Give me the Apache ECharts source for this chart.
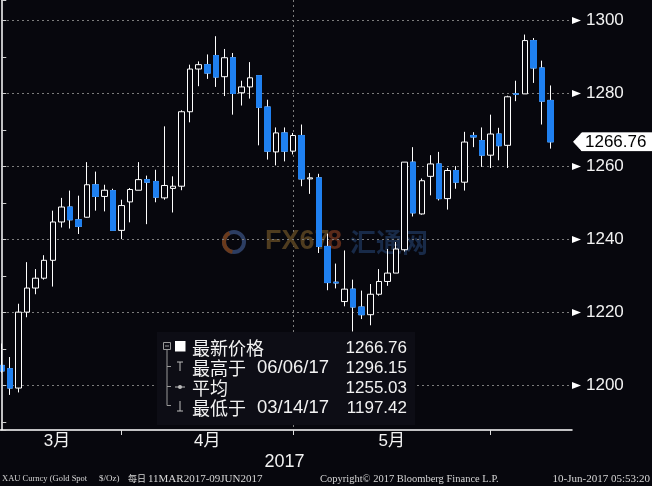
<!DOCTYPE html>
<html><head><meta charset="utf-8">
<script src="https://cdn.jsdelivr.net/npm/echarts@6/dist/echarts.min.js"></script>
<style>html,body{margin:0;padding:0;background:#07070d;}#c{width:652px;height:486px;}</style>
</head><body><div id="c"></div>
<script>
// ---- data ----
const dates = ['03/13','03/14','03/15','03/16','03/17','03/20','03/21','03/22','03/23','03/24','03/27','03/28','03/29','03/30','03/31',
 '04/03','04/04','04/05','04/06','04/07','04/10','04/11','04/12','04/13','04/14','04/17','04/18','04/19','04/20','04/21','04/24','04/25','04/26','04/27','04/28',
 '05/01','05/02','05/03','05/04','05/05','05/08','05/09','05/10','05/11','05/12','05/15','05/16','05/17','05/18','05/19','05/22','05/23','05/24','05/25','05/26','05/29','05/30','05/31',
 '06/01','06/02','06/05','06/06','06/07','06/08','06/09'];
const openP = [1205.5,1204.6,1199.3,1220.1,1226.7,1229.4,1234.3,1244.8,1248.9,1245.4,1246.1,1255.0,1251.8,1253.4,1242.5,
 1250.3,1253.5,1256.4,1255.9,1251.4,1254.0,1254.6,1275.0,1286.7,1287.9,1290.4,1284.6,1289.8,1280.2,1281.8,1284.9,1276.3,1264.0,1269.2,1264.2,
 1268.5,1256.6,1256.9,1238.1,1228.3,1223.0,1226.4,1221.5,1219.4,1225.0,1228.5,1230.8,1237.2,1261.2,1247.0,1257.3,1260.7,1251.2,1258.9,1255.7,1268.5,1267.1,1263.1,
 1268.9,1265.8,1279.9,1279.9,1294.5,1287.0,1278.1];
const closeP = [1204.0,1199.3,1220.1,1226.7,1229.4,1234.3,1244.8,1248.9,1245.4,1243.6,1255.0,1251.8,1253.5,1242.5,1249.3,
 1253.7,1256.4,1255.7,1251.6,1254.8,1254.6,1275.0,1286.7,1287.9,1285.6,1284.5,1289.8,1280.0,1281.8,1284.3,1276.2,1264.2,1269.2,1264.2,1268.5,
 1256.6,1256.9,1238.1,1228.2,1228.1,1226.4,1221.5,1219.4,1225.0,1228.5,1230.8,1237.4,1261.2,1247.3,1256.1,1260.7,1251.2,1258.9,1255.7,1266.7,1268.1,1263.1,1268.9,
 1265.7,1279.1,1279.8,1294.5,1287.0,1277.9,1266.76];
const lowP = [1203.5,1197.42,1198.1,1218.7,1225.0,1229.0,1227.1,1243.3,1243.0,1241.5,1246.0,1247.9,1247.7,1242.5,1240.1,
 1244.7,1253.5,1244.2,1250.2,1250.9,1247.4,1253.5,1272.1,1282.0,1284.0,1281.8,1279.3,1274.2,1276.7,1278.6,1265.8,1261.9,1260.3,1261.4,1263.3,
 1254.6,1252.5,1236.3,1226.1,1226.6,1221.7,1214.8,1218.2,1216.5,1224.6,1227.3,1230.8,1236.7,1246.3,1246.8,1252.1,1250.7,1248.2,1253.9,1253.4,1265.3,1259.9,1259.6,
 1261.7,1259.6,1277.9,1279.9,1282.9,1271.5,1264.9];
const highP = [1211.5,1207.8,1222.4,1233.8,1231.9,1235.7,1247.9,1251.4,1253.4,1252.0,1261.2,1258.6,1255.0,1253.9,1250.9,
 1254.1,1261.2,1257.5,1259.1,1271.0,1257.3,1275.4,1287.9,1288.8,1290.7,1295.7,1292.2,1291.1,1283.5,1288.6,1284.9,1278.3,1270.7,1270.7,1269.2,
 1271.5,1258.2,1258.0,1241.6,1233.4,1237.0,1229.0,1226.0,1227.8,1231.9,1237.4,1239.3,1261.2,1265.3,1256.7,1263.1,1264.0,1259.6,1260.1,1269.5,1269.4,1270.7,1274.2,
 1270.6,1279.4,1283.5,1296.15,1295.2,1289.0,1282.2];
const padCategories = [' ', '  '];
const yTicks = [1200, 1220, 1240, 1260, 1280, 1300];
const yRange = [1187.808, 1305.616];
const monthEndIdx = [14, 34, 57];
const monthNames = ['3月', '4月', '5月'];
const monthLabelAt = [6.5, 24, 45.5];
const yearLabel = '2017';
const lastPrice = 1266.76;
const legendLabels = ['最新价格', '最高于', '平均', '最低于'];
const legendDates = ['', '06/06/17', '', '03/14/17'];
const legendValues = ['1266.76', '1296.15', '1255.03', '1197.42'];
const footerTexts = ['XAU Curncy (Gold Spot', '$/Oz)', '每日', '11MAR2017-09JUN2017', 'Copyright© 2017 Bloomberg Finance L.P.', '10-Jun-2017 05:53:20'];
const watermark = ['FX67', '8', '汇通网'];

// ---- style ----
const BLUE = '#1f80f0';
const PLOT_BG = '#07070d';
const WHITE = '#f2f2f2';
const GRID_COLOR = '#7c7c7c';
const GRID_LINE = {color: GRID_COLOR, type: [2, 3], width: 1};
const LAT = "'Liberation Sans', 'Noto Sans CJK SC', sans-serif";
const CJK = "'Noto Sans CJK SC', 'Liberation Sans', sans-serif";

function triCanvas() {
  const c = document.createElement('canvas'); c.width = 18; c.height = 14;
  const g = c.getContext('2d'); g.fillStyle = '#ffffff';
  g.beginPath(); g.moveTo(0, 0); g.lineTo(18, 7); g.lineTo(0, 14); g.closePath(); g.fill();
  return c;
}
function tagCanvas() {
  const c = document.createElement('canvas'); c.width = 160; c.height = 40;
  const g = c.getContext('2d'); g.fillStyle = '#ffffff';
  g.beginPath(); g.moveTo(0, 20); g.lineTo(14, 2); g.lineTo(160, 2); g.lineTo(160, 38); g.lineTo(14, 38); g.closePath(); g.fill();
  return c;
}
const TRI = triCanvas();
const TAG = tagCanvas();

const categories = dates.concat(padCategories);
const xSpan = [-0.5, categories.length - 0.5];
const ohlc = dates.map((d, i) => [openP[i], closeP[i], lowP[i], highP[i]]);
const downBodies = dates.map((d, i) => closeP[i] < openP[i] ? [openP[i], closeP[i], closeP[i], openP[i]] : ['-', '-', '-', '-']);

const chart = echarts.init(document.getElementById('c'), null, {renderer: 'canvas', width: 652, height: 486});

// legend graphics
const legendRowY = [348, 368, 388, 408];
const legendEls = [
  {type: 'rect', shape: {x: 157, y: 332, width: 258, height: 93}, style: {fill: '#0d0d15'}, z: 100},
  {type: 'rect', shape: {x: 163.5, y: 342.5, width: 7, height: 7}, style: {fill: 'none', stroke: '#9a9a9a', lineWidth: 1}, z: 101},
  {type: 'line', shape: {x1: 165, y1: 346, x2: 169, y2: 346}, style: {stroke: '#9a9a9a', lineWidth: 1}, z: 101},
  {type: 'line', shape: {x1: 167, y1: 350, x2: 167, y2: 405.5}, style: {stroke: '#9a9a9a', lineWidth: 1}, z: 101},
  {type: 'rect', shape: {x: 175, y: 341, width: 10.5, height: 10.5}, style: {fill: '#ffffff'}, z: 101},
  {type: 'line', shape: {x1: 177, y1: 362, x2: 183, y2: 362}, style: {stroke: '#bdbdbd', lineWidth: 1}, z: 101},
  {type: 'line', shape: {x1: 180, y1: 362, x2: 180, y2: 371}, style: {stroke: '#bdbdbd', lineWidth: 1}, z: 101},
  {type: 'line', shape: {x1: 175, y1: 387, x2: 185, y2: 387}, style: {stroke: '#bdbdbd', lineWidth: 1}, z: 101},
  {type: 'circle', shape: {cx: 180, cy: 387, r: 2}, style: {fill: '#bdbdbd'}, z: 101},
  {type: 'line', shape: {x1: 180, y1: 401, x2: 180, y2: 411}, style: {stroke: '#bdbdbd', lineWidth: 1}, z: 101},
  {type: 'line', shape: {x1: 177, y1: 411, x2: 183, y2: 411}, style: {stroke: '#bdbdbd', lineWidth: 1}, z: 101}
];
[366.5, 386.5, 405.5].forEach(y => legendEls.push({type: 'line', shape: {x1: 167, y1: y, x2: 171, y2: y}, style: {stroke: '#9a9a9a', lineWidth: 1}, z: 101}));
legendLabels.forEach((t, i) => {
  legendEls.push({type: 'text', x: 192, y: legendRowY[i], style: {text: t, fill: WHITE, font: "18px " + CJK, verticalAlign: 'middle', align: 'left'}, z: 101});
  if (legendDates[i]) legendEls.push({type: 'text', x: 257, y: legendRowY[i], style: {text: legendDates[i], fill: WHITE, font: "18.5px " + LAT, verticalAlign: 'middle', align: 'left'}, z: 101});
  legendEls.push({type: 'text', x: 407, y: legendRowY[i], style: {text: legendValues[i], fill: WHITE, font: "17px " + LAT, verticalAlign: 'middle', align: 'right'}, z: 101});
});

// footer
const footerX = [2, 99, 128, 148, 320, 650];
const footerFont = ["8.5px 'Liberation Serif', serif", "9px 'Liberation Serif', serif", "9px " + CJK, "11px 'Liberation Serif', serif", "10.5px 'Liberation Serif', serif", "11px 'Liberation Serif', serif"];
const footerEls = footerTexts.map((t, i) => ({
  type: 'text', x: footerX[i], y: 479,
  style: {text: t, fill: '#d6d6d6', font: footerFont[i], verticalAlign: 'middle', align: i === 5 ? 'right' : 'left'},
  z: 50
}));

// watermark
const wmEls = [
  {type: 'circle', shape: {cx: 234, cy: 242, r: 10}, style: {fill: 'none', stroke: '#2c3d62', lineWidth: 4}, z: 1},
  {type: 'arc', shape: {cx: 234, cy: 242, r: 10, startAngle: Math.PI * 0.55, endAngle: Math.PI * 1.35}, style: {fill: 'none', stroke: '#6a3a1c', lineWidth: 4}, z: 1},
  {type: 'text', x: 265, y: 242, style: {text: watermark[0], fill: '#4f3c1f', font: "bold 27px 'Liberation Sans', sans-serif", verticalAlign: 'middle'}, z: 1},
  {type: 'text', x: 327, y: 242, style: {text: watermark[1], fill: '#5a2a1a', font: "bold 27px 'Liberation Sans', sans-serif", verticalAlign: 'middle'}, z: 1},
  {type: 'text', x: 350, y: 242, style: {text: watermark[2], fill: '#182a48', font: "bold 26px " + CJK, verticalAlign: 'middle'}, z: 1}
];
const baseEls = legendEls.concat(footerEls).concat(wmEls);

const isTick = v => yTicks.some(t => Math.abs(t - v) < 1e-6);

const option = {
  backgroundColor: PLOT_BG,
  animation: false,
  grid: {left: -3, right: 80, top: 0, bottom: 56, show: false, containLabel: false, outerBoundsMode: 'none'},
  xAxis: [
    {
      type: 'category', data: categories, position: 'bottom', boundaryGap: true, z: 5,
      axisLine: {show: true, lineStyle: {color: '#ffffff', width: 1.5}},
      axisTick: {show: true, alignWithLabel: true, length: 5, interval: (idx) => monthEndIdx.includes(idx), lineStyle: {color: '#dddddd', width: 1}},
      axisLabel: {show: false}, splitLine: {show: false}
    },
    {
      type: 'value', min: xSpan[0], max: xSpan[1], position: 'bottom', z: 0,
      axisLine: {show: false},
      axisTick: {show: false, customValues: monthEndIdx},
      splitLine: {show: true, showMinLine: false, showMaxLine: false, lineStyle: GRID_LINE},
      axisLabel: {show: true, customValues: monthLabelAt, margin: 3, color: WHITE, fontSize: 17, fontFamily: LAT,
        formatter: (v) => { const k = monthLabelAt.findIndex(m => Math.abs(m - v) < 1e-6); return k >= 0 ? monthNames[k] : ''; }},
      name: yearLabel, nameLocation: 'middle', nameGap: 23, nameMoveOverlap: false,
      nameTextStyle: {color: WHITE, fontSize: 18, fontFamily: LAT}
    }
  ],
  yAxis: {
    type: 'value', position: 'right', min: yRange[0], max: yRange[1], z: 5,
    splitNumber: 12, minInterval: 10, maxInterval: 10,
    axisLine: {show: true, lineStyle: {color: '#ffffff', width: 1.5}},
    axisTick: {show: true, length: 5, lineStyle: {color: '#cfcfcf', width: 1}},
    splitLine: {show: false},
    axisLabel: {
      show: true, margin: 0,
      formatter: (v) => isTick(v) ? '{t| }{v|' + Math.round(v) + '}' : '',
      rich: {
        t: {width: 9, height: 7, backgroundColor: {image: TRI}},
        v: {color: WHITE, fontSize: 17, fontFamily: LAT, padding: [0, 0, 0, 5]}
      }
    }
  },
  graphic: {elements: baseEls},
  series: [
    {
      type: 'candlestick', data: ohlc, barWidth: 6, z: 3, xAxisIndex: 0,
      itemStyle: {color: PLOT_BG, borderColor: '#ffffff', color0: BLUE, borderColor0: '#ffffff', borderWidth: 1},
      markLine: {
        silent: true, symbol: ['none', 'none'], animation: false,
        data: [{
          yAxis: lastPrice, lineStyle: {color: 'rgba(0,0,0,0)', width: 1, opacity: 1},
          label: {show: true, position: 'end', distance: 1, opacity: 1, color: '#000000',
            formatter: '{p|' + lastPrice.toFixed(2) + '}',
            rich: {p: {backgroundColor: {image: TAG}, color: '#000000', opacity: 1, fontSize: 17, fontFamily: LAT, height: 20, lineHeight: 20, padding: [1, 4, 0, 12]}}}
        }]
      }
    },
    {
      type: 'candlestick', data: downBodies, barWidth: 6, z: 4, silent: true, xAxisIndex: 0,
      itemStyle: {color: BLUE, borderColor: BLUE, color0: BLUE, borderColor0: BLUE, borderWidth: 1}
    }
  ]
};
chart.setOption(option);

// horizontal dotted reference lines at the labelled ticks, positioned through the chart's own scales
const gx0 = chart.convertToPixel({xAxisIndex: 1}, xSpan[0]);
const gx1 = chart.convertToPixel({xAxisIndex: 1}, xSpan[1]);
const gridEls = yTicks.map(v => {
  const y = Math.round(chart.convertToPixel({yAxisIndex: 0}, v) - 0.5) + 0.5;
  return {type: 'line', silent: true, z: 2,
    shape: {x1: gx0, y1: y, x2: gx1, y2: y},
    style: {stroke: GRID_COLOR, lineWidth: 1, lineDash: [2, 3]}};
});
chart.setOption({graphic: {elements: baseEls.concat(gridEls)}});
</script>
</body></html>
